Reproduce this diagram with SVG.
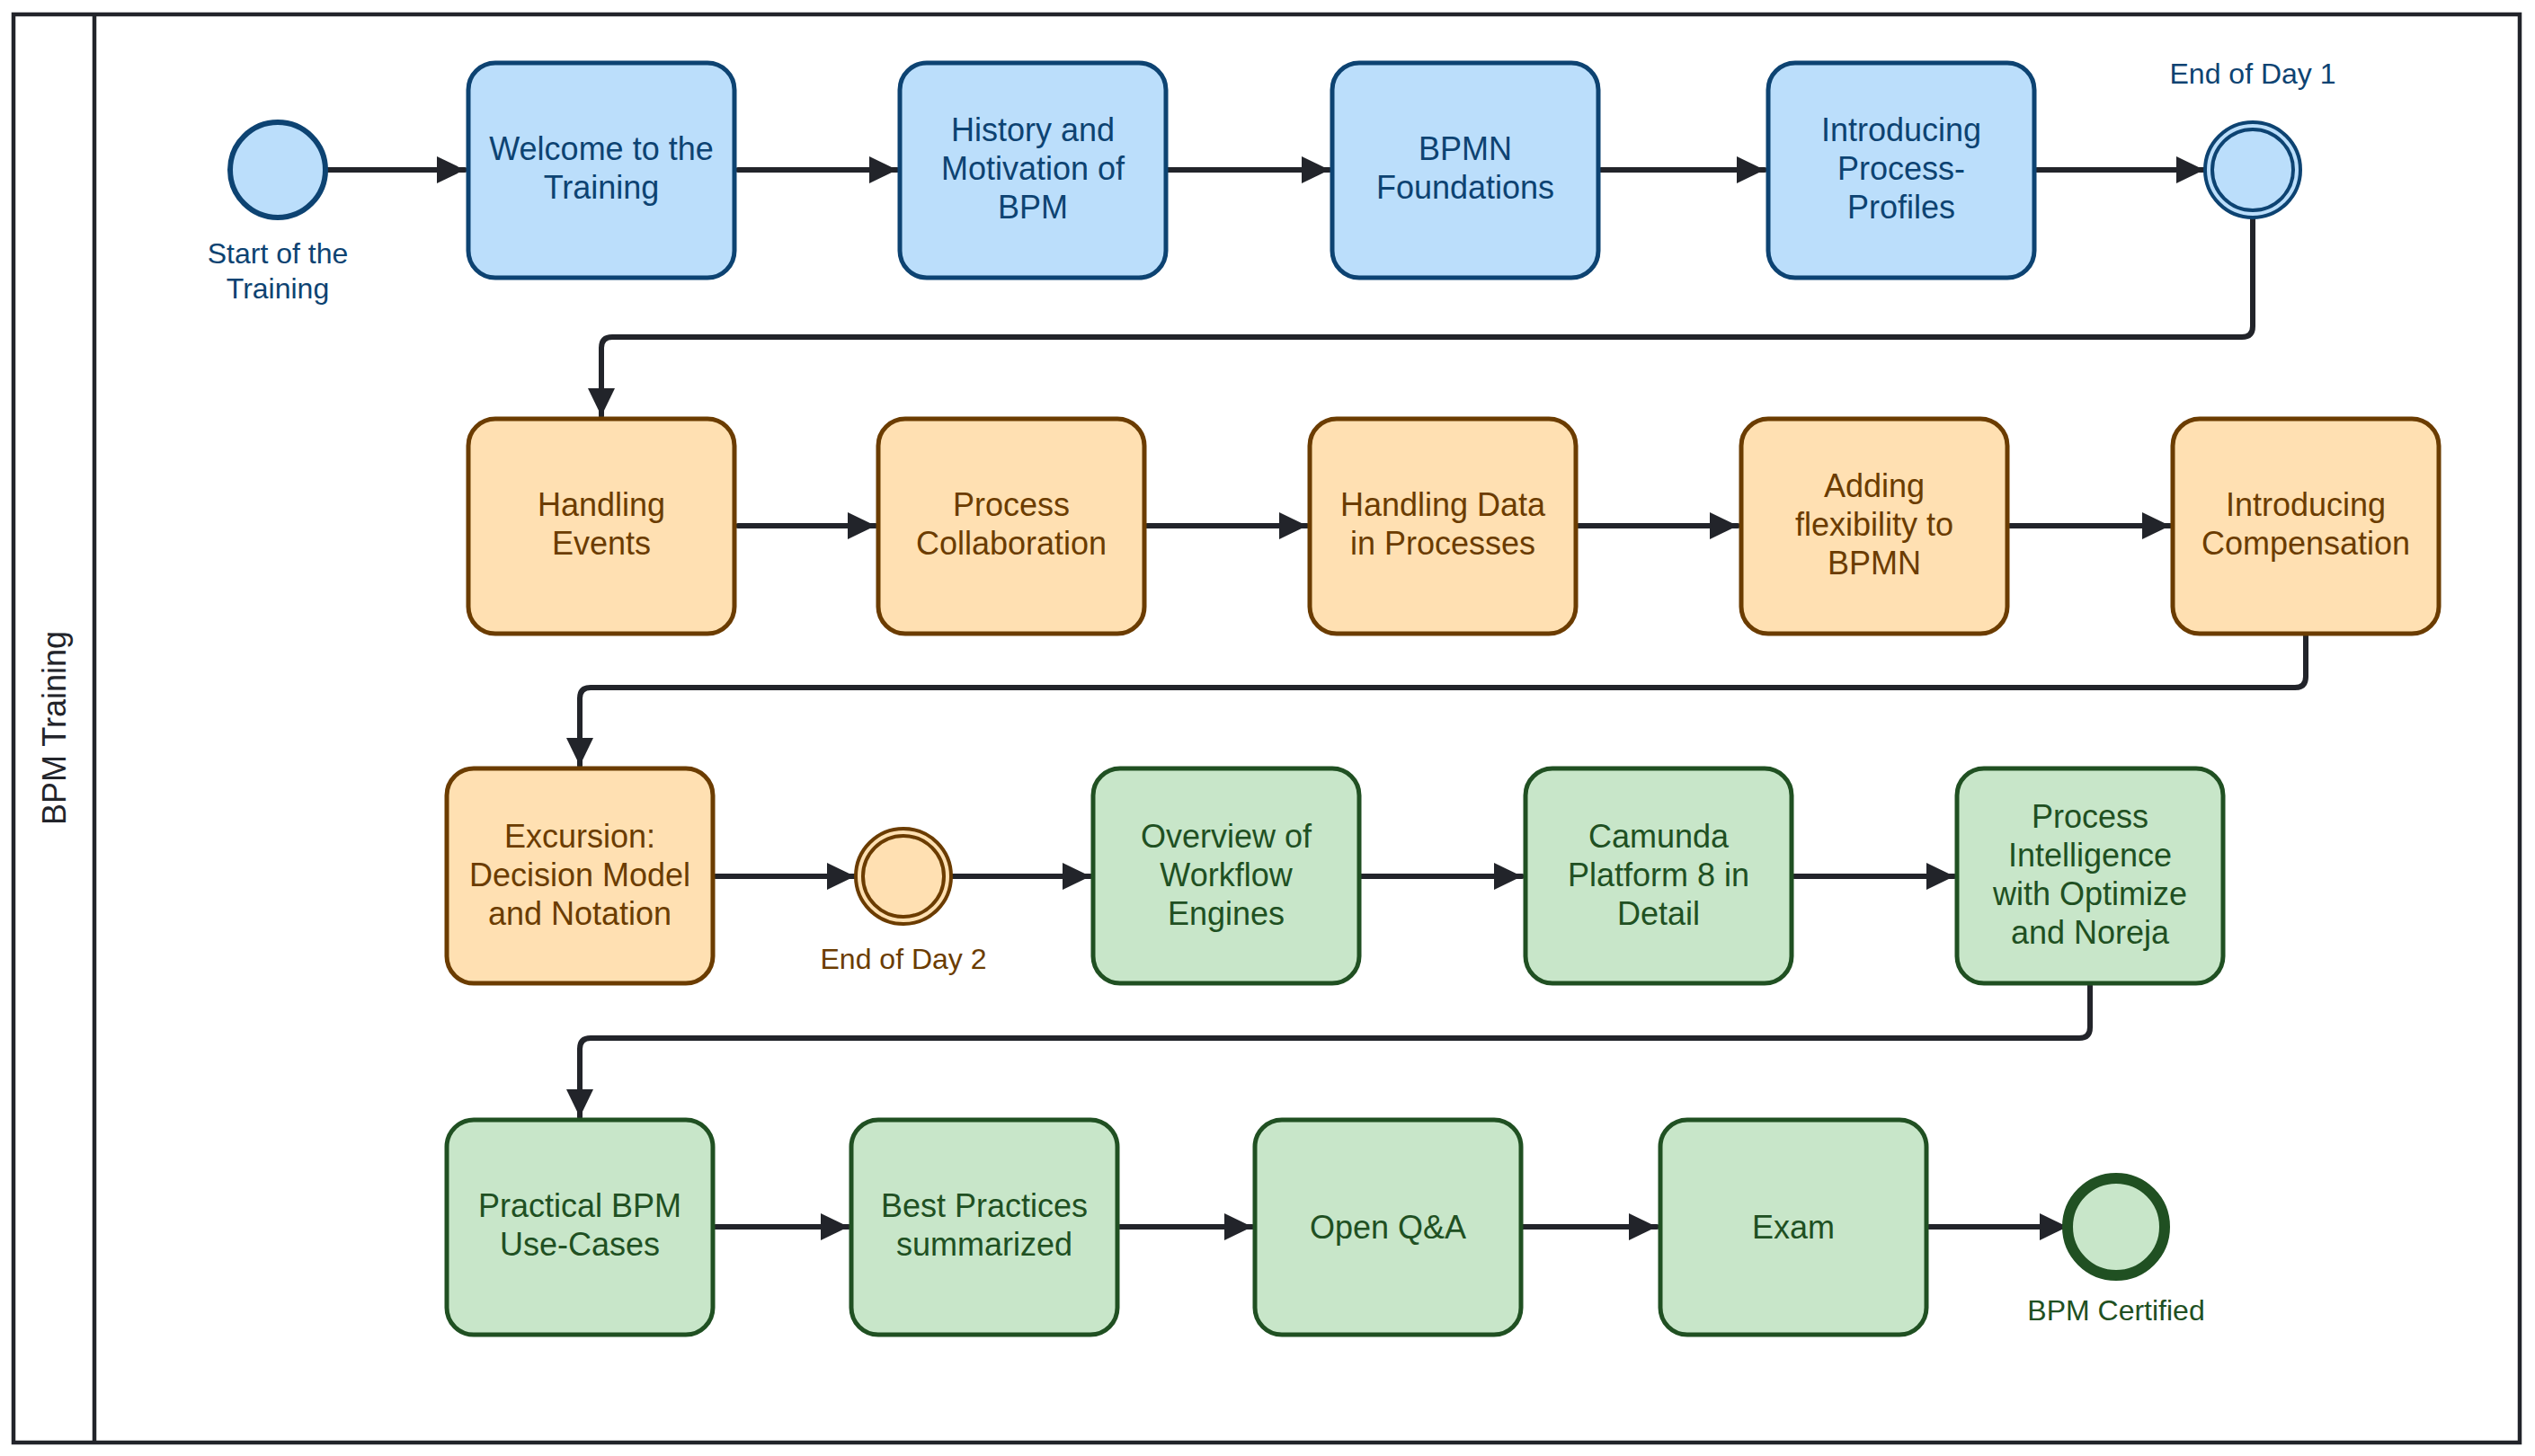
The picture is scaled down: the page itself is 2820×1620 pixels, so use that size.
<svg xmlns="http://www.w3.org/2000/svg" width="2820" height="1620" viewBox="0 0 2820 1620">
<defs>
<style>
.txt{font-family:"Liberation Sans",Arial,Helvetica,sans-serif;text-anchor:middle}
.t{font-size:36px}
.l{font-size:32px}
.task{stroke-width:5}
.blue{fill:#BBDEFB;stroke:#0D4372}
.orange{fill:#FFE0B2;stroke:#6B3C00}
.green{fill:#C8E6C9;stroke:#205022}
.tb{fill:#0D4372}
.to{fill:#6B3C00}
.tg{fill:#205022}
.flow{fill:none;stroke:#22242A;stroke-width:6;stroke-linejoin:round;stroke-linecap:round}
</style>
<marker id="arr" markerUnits="userSpaceOnUse" markerWidth="34" markerHeight="34" refX="32" refY="16" orient="auto">
<path d="M1,1 L32,16 L1,31 Z" fill="#22242A"/>
</marker>
</defs>
<rect width="2820" height="1620" fill="#ffffff"/>
<g id="pool">
<rect x="15" y="16" width="2788" height="1589" fill="none" stroke="#22242A" stroke-width="4.5"/>
<line x1="105" y1="16" x2="105" y2="1605" stroke="#22242A" stroke-width="4.5"/>
<text class="txt" font-size="36" fill="#22242A" transform="translate(73,810) rotate(-90)">BPM Training</text>
</g>
<g id="connectors">
<path class="flow" marker-end="url(#arr)" d="M363,189 L517,189"/>
<path class="flow" marker-end="url(#arr)" d="M821,189 L998,189"/>
<path class="flow" marker-end="url(#arr)" d="M1299,189 L1479,189"/>
<path class="flow" marker-end="url(#arr)" d="M1781,189 L1963,189"/>
<path class="flow" marker-end="url(#arr)" d="M2266,189 L2452,189"/>
<path class="flow" marker-end="url(#arr)" d="M2506,243 L2506,363 Q2506,375 2494,375 L681,375 Q669,375 669,387 L669,463"/>
<path class="flow" marker-end="url(#arr)" d="M821,585 L974,585"/>
<path class="flow" marker-end="url(#arr)" d="M1276,585 L1454,585"/>
<path class="flow" marker-end="url(#arr)" d="M1756,585 L1933,585"/>
<path class="flow" marker-end="url(#arr)" d="M2236,585 L2414,585"/>
<path class="flow" marker-end="url(#arr)" d="M2565,707 L2565,753 Q2565,765 2553,765 L657,765 Q645,765 645,777 L645,852"/>
<path class="flow" marker-end="url(#arr)" d="M796,975 L951,975"/>
<path class="flow" marker-end="url(#arr)" d="M1059,975 L1213,975"/>
<path class="flow" marker-end="url(#arr)" d="M1514,975 L1693,975"/>
<path class="flow" marker-end="url(#arr)" d="M1996,975 L2174,975"/>
<path class="flow" marker-end="url(#arr)" d="M2325,1097 L2325,1143 Q2325,1155 2313,1155 L657,1155 Q645,1155 645,1167 L645,1243"/>
<path class="flow" marker-end="url(#arr)" d="M796,1365 L944,1365"/>
<path class="flow" marker-end="url(#arr)" d="M1246,1365 L1393,1365"/>
<path class="flow" marker-end="url(#arr)" d="M1694,1365 L1843,1365"/>
<path class="flow" marker-end="url(#arr)" d="M2146,1365 L2300,1365"/>
</g>
<g id="start">
<circle class="blue" cx="309" cy="189" r="53" stroke-width="6"/>
<text class="txt l tb" x="309" y="293">Start of the</text>
<text class="txt l tb" x="309" y="332">Training</text>
</g>
<g id="welcome">
<rect class="task blue" x="521" y="70" width="296" height="239" rx="30"/>
<text class="txt t tb" x="669" y="178">Welcome to the</text>
<text class="txt t tb" x="669" y="221">Training</text>
</g>
<g id="history">
<rect class="task blue" x="1001" y="70" width="296" height="239" rx="30"/>
<text class="txt t tb" x="1149" y="157">History and</text>
<text class="txt t tb" x="1149" y="200">Motivation of</text>
<text class="txt t tb" x="1149" y="243">BPM</text>
</g>
<g id="bpmn">
<rect class="task blue" x="1482" y="70" width="296" height="239" rx="30"/>
<text class="txt t tb" x="1630" y="178">BPMN</text>
<text class="txt t tb" x="1630" y="221">Foundations</text>
</g>
<g id="profiles">
<rect class="task blue" x="1967" y="70" width="296" height="239" rx="30"/>
<text class="txt t tb" x="2115" y="157">Introducing</text>
<text class="txt t tb" x="2115" y="200">Process-</text>
<text class="txt t tb" x="2115" y="243">Profiles</text>
</g>
<g id="endday1">
<text class="txt l tb" x="2506" y="93">End of Day 1</text>
<circle class="blue" cx="2506" cy="189" r="53" stroke-width="4"/>
<circle class="blue" cx="2506" cy="189" r="45" stroke-width="4"/>
</g>
<g id="events">
<rect class="task orange" x="521" y="466" width="296" height="239" rx="30"/>
<text class="txt t to" x="669" y="574">Handling</text>
<text class="txt t to" x="669" y="617">Events</text>
</g>
<g id="collaboration">
<rect class="task orange" x="977" y="466" width="296" height="239" rx="30"/>
<text class="txt t to" x="1125" y="574">Process</text>
<text class="txt t to" x="1125" y="617">Collaboration</text>
</g>
<g id="data">
<rect class="task orange" x="1457" y="466" width="296" height="239" rx="30"/>
<text class="txt t to" x="1605" y="574">Handling Data</text>
<text class="txt t to" x="1605" y="617">in Processes</text>
</g>
<g id="flexibility">
<rect class="task orange" x="1937" y="466" width="296" height="239" rx="30"/>
<text class="txt t to" x="2085" y="553">Adding</text>
<text class="txt t to" x="2085" y="596">flexibility to</text>
<text class="txt t to" x="2085" y="639">BPMN</text>
</g>
<g id="compensation">
<rect class="task orange" x="2417" y="466" width="296" height="239" rx="30"/>
<text class="txt t to" x="2565" y="574">Introducing</text>
<text class="txt t to" x="2565" y="617">Compensation</text>
</g>
<g id="dmn">
<rect class="task orange" x="497" y="855" width="296" height="239" rx="30"/>
<text class="txt t to" x="645" y="943">Excursion:</text>
<text class="txt t to" x="645" y="986">Decision Model</text>
<text class="txt t to" x="645" y="1029">and Notation</text>
</g>
<g id="endday2">
<circle class="orange" cx="1005" cy="975" r="53" stroke-width="4"/>
<circle class="orange" cx="1005" cy="975" r="45" stroke-width="4"/>
<text class="txt l to" x="1005" y="1078">End of Day 2</text>
</g>
<g id="engines">
<rect class="task green" x="1216" y="855" width="296" height="239" rx="30"/>
<text class="txt t tg" x="1364" y="943">Overview of</text>
<text class="txt t tg" x="1364" y="986">Workflow</text>
<text class="txt t tg" x="1364" y="1029">Engines</text>
</g>
<g id="camunda">
<rect class="task green" x="1697" y="855" width="296" height="239" rx="30"/>
<text class="txt t tg" x="1845" y="943">Camunda</text>
<text class="txt t tg" x="1845" y="986">Platform 8 in</text>
<text class="txt t tg" x="1845" y="1029">Detail</text>
</g>
<g id="intelligence">
<rect class="task green" x="2177" y="855" width="296" height="239" rx="30"/>
<text class="txt t tg" x="2325" y="921">Process</text>
<text class="txt t tg" x="2325" y="964">Intelligence</text>
<text class="txt t tg" x="2325" y="1007">with Optimize</text>
<text class="txt t tg" x="2325" y="1050">and Noreja</text>
</g>
<g id="usecases">
<rect class="task green" x="497" y="1246" width="296" height="239" rx="30"/>
<text class="txt t tg" x="645" y="1354">Practical BPM</text>
<text class="txt t tg" x="645" y="1397">Use-Cases</text>
</g>
<g id="bestpractices">
<rect class="task green" x="947" y="1246" width="296" height="239" rx="30"/>
<text class="txt t tg" x="1095" y="1354">Best Practices</text>
<text class="txt t tg" x="1095" y="1397">summarized</text>
</g>
<g id="qa">
<rect class="task green" x="1396" y="1246" width="296" height="239" rx="30"/>
<text class="txt t tg" x="1544" y="1378">Open Q&amp;A</text>
</g>
<g id="exam">
<rect class="task green" x="1847" y="1246" width="296" height="239" rx="30"/>
<text class="txt t tg" x="1995" y="1378">Exam</text>
</g>
<g id="certified">
<circle class="green" cx="2354" cy="1365" r="54" stroke-width="12"/>
<text class="txt l tg" x="2354" y="1469">BPM Certified</text>
</g>
</svg>
